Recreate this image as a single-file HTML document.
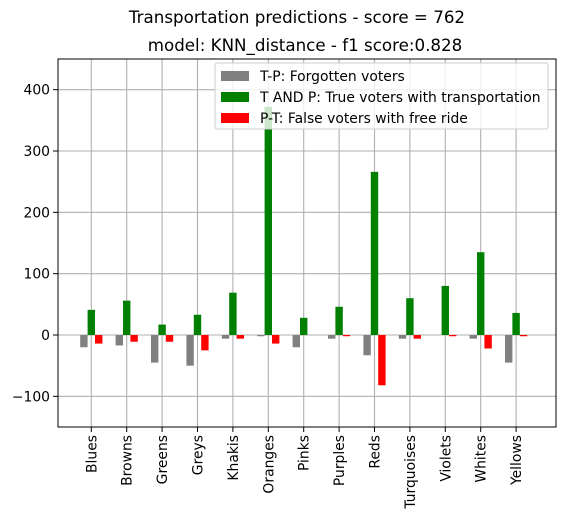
<!DOCTYPE html>
<html><head><meta charset="utf-8"><style>body{margin:0;background:#fff}svg text{font-family:"DejaVu Sans","Liberation Sans",sans-serif}</style></head>
<body>
<svg id="chart" width="567" height="523" xmlns="http://www.w3.org/2000/svg">
<text x="297" y="23" font-size="16.7" text-anchor="middle">Transportation predictions - score = 762</text>
<text x="305" y="51" font-size="16.7" text-anchor="middle">model: KNN_distance - f1 score:0.828</text>
<g id="grid"></g><g id="bars"></g><g id="axes"></g>
<rect x="58" y="59" width="498" height="368" fill="none" stroke="#000" stroke-width="1"/>
<g>
<rect x="215" y="63" width="333" height="66" fill="#fff" fill-opacity="0.8" stroke="#ccc" rx="2"/>
<rect x="221" y="71" width="28" height="10" fill="#808080"/>
<text x="260" y="81" font-size="13.9">T-P: Forgotten voters</text>
<rect x="221" y="92" width="28" height="10" fill="#008000"/>
<text x="260" y="102" font-size="13.9">T AND P: True voters with transportation</text>
<rect x="221" y="113" width="28" height="10" fill="#ff0000"/>
<text x="260" y="123" font-size="13.9">P-T: False voters with free ride</text>
</g>
</svg>
<script>
const categories=["Blues","Browns","Greens","Greys","Khakis","Oranges","Pinks","Purples","Reds","Turquoises","Violets","Whites","Yellows"];
const forgotten=[-20,-17,-45,-50,-6,-2,-20,-6,-33,-6,0,-6,-45];
const trueVoters=[41,56,17,33,69,372,28,46,266,60,80,135,36];
const falseRide=[-14,-11,-11,-25,-6,-14,0,-2,-82,-6,-2,-22,-2];
const yTicks=[-100,0,100,200,300,400];
const NS="http://www.w3.org/2000/svg";
const L=58,R=556,T=59,B=427,yMin=-150,yMax=450;
function x(i){return 91.3+i*35.4;}
function y(v){return B-(v-yMin)/(yMax-yMin)*(B-T);}
function mk(t,a,p){const e=document.createElementNS(NS,t);for(const k in a)e.setAttribute(k,a[k]);p.appendChild(e);return e;}
const grid=document.getElementById('grid'),bars=document.getElementById('bars'),axes=document.getElementById('axes');
const bw=7.4;
yTicks.forEach(v=>{
 const g=mk('line',{x1:L,x2:R,y1:y(v),y2:y(v),stroke:'#b0b0b0','stroke-width':1.1},grid);
 
 
 mk('line',{x1:L-5,x2:L,y1:y(v),y2:y(v),stroke:'#000'},axes);
 const t=mk('text',{x:L-8,y:y(v)+5,'font-size':13.9,'text-anchor':'end'},axes);
 t.textContent=v<0?'\u2212'+Math.abs(v):v;
 
 
});
categories.forEach((c,i)=>{
 const cx=x(i);
 const g=mk('line',{x1:cx,x2:cx,y1:T,y2:B,stroke:'#b0b0b0','stroke-width':1.1},grid);
 
 
 mk('line',{x1:cx,x2:cx,y1:B,y2:B+5,stroke:'#000'},axes);
 const t=mk('text',{x:0,y:0,'font-size':13.9,'text-anchor':'end',transform:`translate(${cx+5},${B+8}) rotate(-90)`},axes);
 t.textContent=c;
 
 
 [[forgotten,'#808080',-1,'bar-forgotten'],[trueVoters,'#008000',0,'bar-true'],[falseRide,'#ff0000',1,'bar-false']].forEach(([arr,col,o,n])=>{
  const v=arr[i];const y0=y(0),y1=y(v);
  const r=mk('rect',{x:cx+o*bw-bw/2,y:Math.min(y0,y1),width:bw,height:Math.abs(y1-y0),fill:col},bars);
  
  
 });
});
</script>
</body></html>
